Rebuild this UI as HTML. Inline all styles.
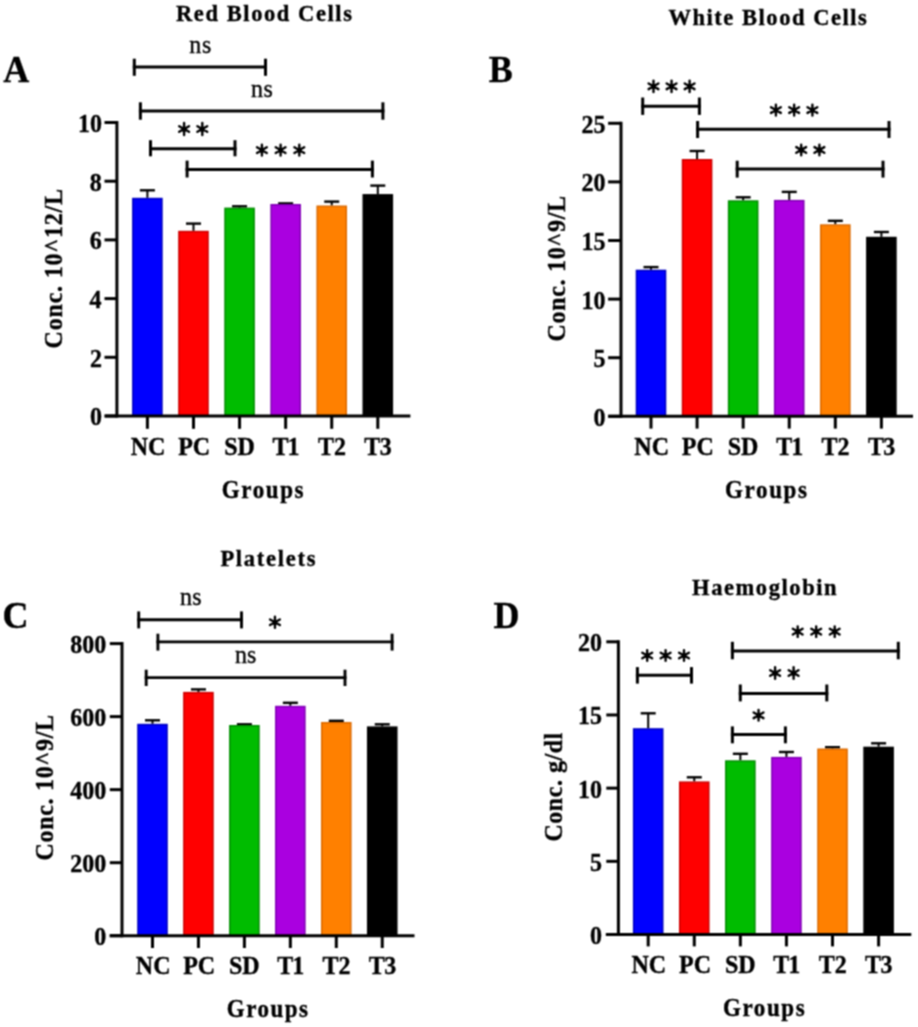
<!DOCTYPE html>
<html><head><meta charset="utf-8"><style>html,body{margin:0;padding:0;background:#fff;}svg{display:block;}text{font-family:"Liberation Serif",serif;fill:#000;stroke:#000;stroke-width:0.35px;}</style></head><body>
<svg width="918" height="1027" viewBox="0 0 918 1027" font-family="Liberation Serif, serif">
<defs><filter id="soft" filterUnits="userSpaceOnUse" x="0" y="0" width="918" height="1027"><feConvolveMatrix color-interpolation-filters="sRGB" order="3" kernelMatrix="1 2 1 2 4 2 1 2 1" divisor="16" edgeMode="duplicate"/></filter></defs><g filter="url(#soft)">
<rect width="918" height="1027" fill="#fff"/>
<line x1="147.40" y1="197.80" x2="147.40" y2="190.30" stroke="#000" stroke-width="2.0" stroke-linecap="butt"/>
<line x1="139.90" y1="190.30" x2="154.90" y2="190.30" stroke="#000" stroke-width="2.4" stroke-linecap="butt"/>
<rect x="132.85" y="198.55" width="29.10" height="217.45" fill="#0000ff" stroke="#0000c0" stroke-width="1.5"/>
<line x1="147.40" y1="416.00" x2="147.40" y2="428.80" stroke="#000" stroke-width="3.0" stroke-linecap="butt"/>
<text transform="translate(130.75,446.20) scale(1,1.07) translate(0,7.85)" font-size="24" font-weight="bold" letter-spacing="0.000">NC</text>
<line x1="193.48" y1="230.80" x2="193.48" y2="223.60" stroke="#000" stroke-width="2.0" stroke-linecap="butt"/>
<line x1="185.98" y1="223.60" x2="200.98" y2="223.60" stroke="#000" stroke-width="2.4" stroke-linecap="butt"/>
<rect x="178.93" y="231.55" width="29.10" height="184.45" fill="#ff0000" stroke="#cc0000" stroke-width="1.5"/>
<line x1="193.48" y1="416.00" x2="193.48" y2="428.80" stroke="#000" stroke-width="3.0" stroke-linecap="butt"/>
<text transform="translate(178.18,446.20) scale(1,1.07) translate(0,7.85)" font-size="24" font-weight="bold" letter-spacing="0.000">PC</text>
<line x1="239.56" y1="207.60" x2="239.56" y2="206.30" stroke="#000" stroke-width="2.0" stroke-linecap="butt"/>
<line x1="232.06" y1="206.30" x2="247.06" y2="206.30" stroke="#000" stroke-width="2.4" stroke-linecap="butt"/>
<rect x="225.01" y="208.35" width="29.10" height="207.65" fill="#00bc00" stroke="#008c00" stroke-width="1.5"/>
<line x1="239.56" y1="416.00" x2="239.56" y2="428.80" stroke="#000" stroke-width="3.0" stroke-linecap="butt"/>
<text transform="translate(224.16,446.20) scale(1,1.07) translate(0,7.85)" font-size="24" font-weight="bold" letter-spacing="0.000">SD</text>
<line x1="285.64" y1="204.00" x2="285.64" y2="203.40" stroke="#000" stroke-width="2.0" stroke-linecap="butt"/>
<line x1="278.14" y1="203.40" x2="293.14" y2="203.40" stroke="#000" stroke-width="2.4" stroke-linecap="butt"/>
<rect x="271.09" y="204.75" width="29.10" height="211.25" fill="#aa00e0" stroke="#8000b4" stroke-width="1.5"/>
<line x1="285.64" y1="416.00" x2="285.64" y2="428.80" stroke="#000" stroke-width="3.0" stroke-linecap="butt"/>
<text transform="translate(272.54,446.20) scale(1,1.07) translate(0,7.90)" font-size="24" font-weight="bold" letter-spacing="-1.000">T1</text>
<line x1="331.72" y1="205.50" x2="331.72" y2="201.60" stroke="#000" stroke-width="2.0" stroke-linecap="butt"/>
<line x1="324.22" y1="201.60" x2="339.22" y2="201.60" stroke="#000" stroke-width="2.4" stroke-linecap="butt"/>
<rect x="317.17" y="206.25" width="29.10" height="209.75" fill="#ff8000" stroke="#dc6a00" stroke-width="1.5"/>
<line x1="331.72" y1="416.00" x2="331.72" y2="428.80" stroke="#000" stroke-width="3.0" stroke-linecap="butt"/>
<text transform="translate(318.02,446.20) scale(1,1.07) translate(0,7.95)" font-size="24" font-weight="bold" letter-spacing="0.000">T2</text>
<line x1="377.80" y1="194.10" x2="377.80" y2="185.60" stroke="#000" stroke-width="2.0" stroke-linecap="butt"/>
<line x1="370.30" y1="185.60" x2="385.30" y2="185.60" stroke="#000" stroke-width="2.4" stroke-linecap="butt"/>
<rect x="363.25" y="194.85" width="29.10" height="221.15" fill="#000000" stroke="#000000" stroke-width="1.5"/>
<line x1="377.80" y1="416.00" x2="377.80" y2="428.80" stroke="#000" stroke-width="3.0" stroke-linecap="butt"/>
<text transform="translate(364.30,446.20) scale(1,1.07) translate(0,7.85)" font-size="24" font-weight="bold" letter-spacing="-0.600">T3</text>
<line x1="116.90" y1="121.00" x2="116.90" y2="417.50" stroke="#000" stroke-width="3.0" stroke-linecap="butt"/>
<line x1="104.80" y1="416.00" x2="410.40" y2="416.00" stroke="#000" stroke-width="3.0" stroke-linecap="butt"/>
<line x1="104.50" y1="416.00" x2="116.90" y2="416.00" stroke="#000" stroke-width="3.0" stroke-linecap="butt"/>
<text transform="translate(89.90,417.00) scale(1,1.07) translate(0,7.90)" font-size="24" font-weight="bold" letter-spacing="0.000">0</text>
<line x1="104.50" y1="357.30" x2="116.90" y2="357.30" stroke="#000" stroke-width="3.0" stroke-linecap="butt"/>
<text transform="translate(90.00,358.30) scale(1,1.07) translate(0,7.95)" font-size="24" font-weight="bold" letter-spacing="0.000">2</text>
<line x1="104.50" y1="298.60" x2="116.90" y2="298.60" stroke="#000" stroke-width="3.0" stroke-linecap="butt"/>
<text transform="translate(89.40,299.60) scale(1,1.07) translate(0,7.90)" font-size="24" font-weight="bold" letter-spacing="0.000">4</text>
<line x1="104.50" y1="239.90" x2="116.90" y2="239.90" stroke="#000" stroke-width="3.0" stroke-linecap="butt"/>
<text transform="translate(89.70,240.90) scale(1,1.07) translate(0,7.85)" font-size="24" font-weight="bold" letter-spacing="0.000">6</text>
<line x1="104.50" y1="181.20" x2="116.90" y2="181.20" stroke="#000" stroke-width="3.0" stroke-linecap="butt"/>
<text transform="translate(89.80,182.20) scale(1,1.07) translate(0,7.90)" font-size="24" font-weight="bold" letter-spacing="0.000">8</text>
<line x1="104.50" y1="122.50" x2="116.90" y2="122.50" stroke="#000" stroke-width="3.0" stroke-linecap="butt"/>
<text transform="translate(77.90,123.50) scale(1,1.07) translate(0,7.90)" font-size="24" font-weight="bold" letter-spacing="0.000">10</text>
<text transform="translate(176.00,13.05) scale(1,1.07) translate(0,7.35)" font-size="22.5" font-weight="bold" letter-spacing="1.586">Red Blood Cells</text>
<text transform="translate(3.15,69.75) scale(1,1.07) translate(0,11.90)" font-size="36" font-weight="bold" letter-spacing="0.000">A</text>
<text transform="translate(189.20,46.85) scale(1,1.07) translate(0,5.55)" font-size="24" font-weight="normal" letter-spacing="0.800">ns</text>
<text transform="translate(251.00,90.65) scale(1,1.07) translate(0,5.55)" font-size="24" font-weight="normal" letter-spacing="0.500">ns</text>
<text transform="translate(221.80,489.75) scale(1,1.07) translate(0,7.55)" font-size="23" font-weight="bold" letter-spacing="1.620">Groups</text>
<text transform="translate(53.35,348.40) rotate(-90) scale(1,1.07) translate(0,7.85)" font-size="24" font-weight="bold" letter-spacing="0.792">Conc. 10^12/L</text>
<path d="M184.10 122.90L184.10 135.10M179.20 126.17L189.00 131.83M189.00 126.17L179.20 131.83M202.30 122.90L202.30 135.10M197.40 126.17L207.20 131.83M207.20 126.17L197.40 131.83" stroke="#000" stroke-width="2.4" stroke-linecap="round" fill="none"/>
<circle cx="184.10" cy="129.00" r="2.6"/>
<circle cx="202.30" cy="129.00" r="2.6"/>
<path d="M261.90 144.70L261.90 155.60M257.00 147.32L266.80 152.98M266.80 147.32L257.00 152.98M280.60 144.70L280.60 155.60M275.70 147.32L285.50 152.98M285.50 147.32L275.70 152.98M299.30 144.70L299.30 155.60M294.40 147.32L304.20 152.98M304.20 147.32L294.40 152.98" stroke="#000" stroke-width="2.4" stroke-linecap="round" fill="none"/>
<circle cx="261.90" cy="150.15" r="2.6"/>
<circle cx="280.60" cy="150.15" r="2.6"/>
<circle cx="299.30" cy="150.15" r="2.6"/>
<line x1="132.80" y1="66.90" x2="267.00" y2="66.90" stroke="#000" stroke-width="3.0" stroke-linecap="butt"/>
<line x1="134.30" y1="58.70" x2="134.30" y2="75.80" stroke="#000" stroke-width="3.0" stroke-linecap="butt"/>
<line x1="265.50" y1="58.70" x2="265.50" y2="75.80" stroke="#000" stroke-width="3.0" stroke-linecap="butt"/>
<line x1="138.90" y1="111.00" x2="384.40" y2="111.00" stroke="#000" stroke-width="3.0" stroke-linecap="butt"/>
<line x1="140.40" y1="102.30" x2="140.40" y2="119.70" stroke="#000" stroke-width="3.0" stroke-linecap="butt"/>
<line x1="382.90" y1="102.30" x2="382.90" y2="119.70" stroke="#000" stroke-width="3.0" stroke-linecap="butt"/>
<line x1="149.00" y1="148.80" x2="236.50" y2="148.80" stroke="#000" stroke-width="3.0" stroke-linecap="butt"/>
<line x1="150.50" y1="140.20" x2="150.50" y2="156.30" stroke="#000" stroke-width="3.0" stroke-linecap="butt"/>
<line x1="235.00" y1="140.20" x2="235.00" y2="156.30" stroke="#000" stroke-width="3.0" stroke-linecap="butt"/>
<line x1="185.60" y1="169.50" x2="373.90" y2="169.50" stroke="#000" stroke-width="3.0" stroke-linecap="butt"/>
<line x1="187.10" y1="160.60" x2="187.10" y2="177.50" stroke="#000" stroke-width="3.0" stroke-linecap="butt"/>
<line x1="372.40" y1="160.60" x2="372.40" y2="177.50" stroke="#000" stroke-width="3.0" stroke-linecap="butt"/>
<line x1="651.00" y1="269.70" x2="651.00" y2="267.10" stroke="#000" stroke-width="2.0" stroke-linecap="butt"/>
<line x1="643.50" y1="267.10" x2="658.50" y2="267.10" stroke="#000" stroke-width="2.4" stroke-linecap="butt"/>
<rect x="636.45" y="270.45" width="29.10" height="145.85" fill="#0000ff" stroke="#0000c0" stroke-width="1.5"/>
<line x1="651.00" y1="416.30" x2="651.00" y2="428.60" stroke="#000" stroke-width="3.0" stroke-linecap="butt"/>
<text transform="translate(634.35,446.30) scale(1,1.07) translate(0,7.85)" font-size="24" font-weight="bold" letter-spacing="0.000">NC</text>
<line x1="697.08" y1="159.00" x2="697.08" y2="151.00" stroke="#000" stroke-width="2.0" stroke-linecap="butt"/>
<line x1="689.58" y1="151.00" x2="704.58" y2="151.00" stroke="#000" stroke-width="2.4" stroke-linecap="butt"/>
<rect x="682.53" y="159.75" width="29.10" height="256.55" fill="#ff0000" stroke="#cc0000" stroke-width="1.5"/>
<line x1="697.08" y1="416.30" x2="697.08" y2="428.60" stroke="#000" stroke-width="3.0" stroke-linecap="butt"/>
<text transform="translate(681.78,446.30) scale(1,1.07) translate(0,7.85)" font-size="24" font-weight="bold" letter-spacing="0.000">PC</text>
<line x1="743.16" y1="200.30" x2="743.16" y2="197.30" stroke="#000" stroke-width="2.0" stroke-linecap="butt"/>
<line x1="735.66" y1="197.30" x2="750.66" y2="197.30" stroke="#000" stroke-width="2.4" stroke-linecap="butt"/>
<rect x="728.61" y="201.05" width="29.10" height="215.25" fill="#00bc00" stroke="#008c00" stroke-width="1.5"/>
<line x1="743.16" y1="416.30" x2="743.16" y2="428.60" stroke="#000" stroke-width="3.0" stroke-linecap="butt"/>
<text transform="translate(727.76,446.30) scale(1,1.07) translate(0,7.85)" font-size="24" font-weight="bold" letter-spacing="0.000">SD</text>
<line x1="789.24" y1="199.90" x2="789.24" y2="191.90" stroke="#000" stroke-width="2.0" stroke-linecap="butt"/>
<line x1="781.74" y1="191.90" x2="796.74" y2="191.90" stroke="#000" stroke-width="2.4" stroke-linecap="butt"/>
<rect x="774.69" y="200.65" width="29.10" height="215.65" fill="#aa00e0" stroke="#8000b4" stroke-width="1.5"/>
<line x1="789.24" y1="416.30" x2="789.24" y2="428.60" stroke="#000" stroke-width="3.0" stroke-linecap="butt"/>
<text transform="translate(776.14,446.30) scale(1,1.07) translate(0,7.90)" font-size="24" font-weight="bold" letter-spacing="-1.000">T1</text>
<line x1="835.32" y1="224.30" x2="835.32" y2="220.80" stroke="#000" stroke-width="2.0" stroke-linecap="butt"/>
<line x1="827.82" y1="220.80" x2="842.82" y2="220.80" stroke="#000" stroke-width="2.4" stroke-linecap="butt"/>
<rect x="820.77" y="225.05" width="29.10" height="191.25" fill="#ff8000" stroke="#dc6a00" stroke-width="1.5"/>
<line x1="835.32" y1="416.30" x2="835.32" y2="428.60" stroke="#000" stroke-width="3.0" stroke-linecap="butt"/>
<text transform="translate(821.62,446.30) scale(1,1.07) translate(0,7.95)" font-size="24" font-weight="bold" letter-spacing="0.000">T2</text>
<line x1="881.40" y1="236.80" x2="881.40" y2="232.00" stroke="#000" stroke-width="2.0" stroke-linecap="butt"/>
<line x1="873.90" y1="232.00" x2="888.90" y2="232.00" stroke="#000" stroke-width="2.4" stroke-linecap="butt"/>
<rect x="866.85" y="237.55" width="29.10" height="178.75" fill="#000000" stroke="#000000" stroke-width="1.5"/>
<line x1="881.40" y1="416.30" x2="881.40" y2="428.60" stroke="#000" stroke-width="3.0" stroke-linecap="butt"/>
<text transform="translate(867.90,446.30) scale(1,1.07) translate(0,7.85)" font-size="24" font-weight="bold" letter-spacing="-0.600">T3</text>
<line x1="621.00" y1="121.80" x2="621.00" y2="417.80" stroke="#000" stroke-width="3.0" stroke-linecap="butt"/>
<line x1="608.30" y1="416.30" x2="913.00" y2="416.30" stroke="#000" stroke-width="3.0" stroke-linecap="butt"/>
<line x1="608.10" y1="416.30" x2="621.00" y2="416.30" stroke="#000" stroke-width="3.0" stroke-linecap="butt"/>
<text transform="translate(593.50,417.30) scale(1,1.07) translate(0,7.90)" font-size="24" font-weight="bold" letter-spacing="0.000">0</text>
<line x1="608.10" y1="357.70" x2="621.00" y2="357.70" stroke="#000" stroke-width="3.0" stroke-linecap="butt"/>
<text transform="translate(593.50,358.70) scale(1,1.07) translate(0,7.75)" font-size="24" font-weight="bold" letter-spacing="0.000">5</text>
<line x1="608.10" y1="299.10" x2="621.00" y2="299.10" stroke="#000" stroke-width="3.0" stroke-linecap="butt"/>
<text transform="translate(581.50,300.10) scale(1,1.07) translate(0,7.90)" font-size="24" font-weight="bold" letter-spacing="0.000">10</text>
<line x1="608.10" y1="240.50" x2="621.00" y2="240.50" stroke="#000" stroke-width="3.0" stroke-linecap="butt"/>
<text transform="translate(581.50,241.50) scale(1,1.07) translate(0,7.80)" font-size="24" font-weight="bold" letter-spacing="0.000">15</text>
<line x1="608.10" y1="181.90" x2="621.00" y2="181.90" stroke="#000" stroke-width="3.0" stroke-linecap="butt"/>
<text transform="translate(581.50,182.90) scale(1,1.07) translate(0,7.90)" font-size="24" font-weight="bold" letter-spacing="0.000">20</text>
<line x1="608.10" y1="123.30" x2="621.00" y2="123.30" stroke="#000" stroke-width="3.0" stroke-linecap="butt"/>
<text transform="translate(581.50,124.30) scale(1,1.07) translate(0,7.85)" font-size="24" font-weight="bold" letter-spacing="0.000">25</text>
<text transform="translate(668.40,17.15) scale(1,1.07) translate(0,7.35)" font-size="22.5" font-weight="bold" letter-spacing="1.544">White Blood Cells</text>
<text transform="translate(488.65,69.30) scale(1,1.07) translate(0,11.75)" font-size="36" font-weight="bold" letter-spacing="0.000">B</text>
<text transform="translate(725.10,489.75) scale(1,1.07) translate(0,7.55)" font-size="23" font-weight="bold" letter-spacing="1.640">Groups</text>
<text transform="translate(556.75,341.60) rotate(-90) scale(1,1.07) translate(0,7.85)" font-size="24" font-weight="bold" letter-spacing="0.709">Conc. 10^9/L</text>
<path d="M653.50 80.60L653.50 92.00M648.60 83.47L658.40 89.13M658.40 83.47L648.60 89.13M671.55 80.60L671.55 92.00M666.65 83.47L676.45 89.13M676.45 83.47L666.65 89.13M689.60 80.60L689.60 92.00M684.70 83.47L694.50 89.13M694.50 83.47L684.70 89.13" stroke="#000" stroke-width="2.4" stroke-linecap="round" fill="none"/>
<circle cx="653.50" cy="86.30" r="2.6"/>
<circle cx="671.55" cy="86.30" r="2.6"/>
<circle cx="689.60" cy="86.30" r="2.6"/>
<path d="M775.90 104.60L775.90 115.50M771.00 107.22L780.80 112.88M780.80 107.22L771.00 112.88M794.15 104.60L794.15 115.50M789.25 107.22L799.05 112.88M799.05 107.22L789.25 112.88M812.40 104.60L812.40 115.50M807.50 107.22L817.30 112.88M817.30 107.22L807.50 112.88" stroke="#000" stroke-width="2.4" stroke-linecap="round" fill="none"/>
<circle cx="775.90" cy="110.05" r="2.6"/>
<circle cx="794.15" cy="110.05" r="2.6"/>
<circle cx="812.40" cy="110.05" r="2.6"/>
<path d="M801.20 144.70L801.20 155.20M796.30 147.12L806.10 152.78M806.10 147.12L796.30 152.78M819.40 144.70L819.40 155.20M814.50 147.12L824.30 152.78M824.30 147.12L814.50 152.78" stroke="#000" stroke-width="2.4" stroke-linecap="round" fill="none"/>
<circle cx="801.20" cy="149.95" r="2.6"/>
<circle cx="819.40" cy="149.95" r="2.6"/>
<line x1="641.20" y1="106.20" x2="700.90" y2="106.20" stroke="#000" stroke-width="3.0" stroke-linecap="butt"/>
<line x1="642.70" y1="97.50" x2="642.70" y2="114.90" stroke="#000" stroke-width="3.0" stroke-linecap="butt"/>
<line x1="699.40" y1="97.50" x2="699.40" y2="114.90" stroke="#000" stroke-width="3.0" stroke-linecap="butt"/>
<line x1="696.10" y1="129.30" x2="890.50" y2="129.30" stroke="#000" stroke-width="3.0" stroke-linecap="butt"/>
<line x1="697.60" y1="121.00" x2="697.60" y2="138.00" stroke="#000" stroke-width="3.0" stroke-linecap="butt"/>
<line x1="889.00" y1="121.00" x2="889.00" y2="138.00" stroke="#000" stroke-width="3.0" stroke-linecap="butt"/>
<line x1="735.70" y1="169.00" x2="884.50" y2="169.00" stroke="#000" stroke-width="3.0" stroke-linecap="butt"/>
<line x1="737.20" y1="160.70" x2="737.20" y2="177.60" stroke="#000" stroke-width="3.0" stroke-linecap="butt"/>
<line x1="883.00" y1="160.70" x2="883.00" y2="177.60" stroke="#000" stroke-width="3.0" stroke-linecap="butt"/>
<line x1="152.50" y1="723.80" x2="152.50" y2="720.30" stroke="#000" stroke-width="2.0" stroke-linecap="butt"/>
<line x1="145.00" y1="720.30" x2="160.00" y2="720.30" stroke="#000" stroke-width="2.4" stroke-linecap="butt"/>
<rect x="137.95" y="724.55" width="29.10" height="211.15" fill="#0000ff" stroke="#0000c0" stroke-width="1.5"/>
<line x1="152.50" y1="935.70" x2="152.50" y2="948.00" stroke="#000" stroke-width="3.0" stroke-linecap="butt"/>
<text transform="translate(135.85,965.20) scale(1,1.07) translate(0,7.85)" font-size="24" font-weight="bold" letter-spacing="0.000">NC</text>
<line x1="198.45" y1="691.90" x2="198.45" y2="689.40" stroke="#000" stroke-width="2.0" stroke-linecap="butt"/>
<line x1="190.95" y1="689.40" x2="205.95" y2="689.40" stroke="#000" stroke-width="2.4" stroke-linecap="butt"/>
<rect x="183.90" y="692.65" width="29.10" height="243.05" fill="#ff0000" stroke="#cc0000" stroke-width="1.5"/>
<line x1="198.45" y1="935.70" x2="198.45" y2="948.00" stroke="#000" stroke-width="3.0" stroke-linecap="butt"/>
<text transform="translate(183.15,965.20) scale(1,1.07) translate(0,7.85)" font-size="24" font-weight="bold" letter-spacing="0.000">PC</text>
<line x1="244.40" y1="725.00" x2="244.40" y2="724.30" stroke="#000" stroke-width="2.0" stroke-linecap="butt"/>
<line x1="236.90" y1="724.30" x2="251.90" y2="724.30" stroke="#000" stroke-width="2.4" stroke-linecap="butt"/>
<rect x="229.85" y="725.75" width="29.10" height="209.95" fill="#00bc00" stroke="#008c00" stroke-width="1.5"/>
<line x1="244.40" y1="935.70" x2="244.40" y2="948.00" stroke="#000" stroke-width="3.0" stroke-linecap="butt"/>
<text transform="translate(229.00,965.20) scale(1,1.07) translate(0,7.85)" font-size="24" font-weight="bold" letter-spacing="0.000">SD</text>
<line x1="290.35" y1="705.80" x2="290.35" y2="702.80" stroke="#000" stroke-width="2.0" stroke-linecap="butt"/>
<line x1="282.85" y1="702.80" x2="297.85" y2="702.80" stroke="#000" stroke-width="2.4" stroke-linecap="butt"/>
<rect x="275.80" y="706.55" width="29.10" height="229.15" fill="#aa00e0" stroke="#8000b4" stroke-width="1.5"/>
<line x1="290.35" y1="935.70" x2="290.35" y2="948.00" stroke="#000" stroke-width="3.0" stroke-linecap="butt"/>
<text transform="translate(277.25,965.20) scale(1,1.07) translate(0,7.90)" font-size="24" font-weight="bold" letter-spacing="-1.000">T1</text>
<line x1="336.30" y1="722.00" x2="336.30" y2="720.80" stroke="#000" stroke-width="2.0" stroke-linecap="butt"/>
<line x1="328.80" y1="720.80" x2="343.80" y2="720.80" stroke="#000" stroke-width="2.4" stroke-linecap="butt"/>
<rect x="321.75" y="722.75" width="29.10" height="212.95" fill="#ff8000" stroke="#dc6a00" stroke-width="1.5"/>
<line x1="336.30" y1="935.70" x2="336.30" y2="948.00" stroke="#000" stroke-width="3.0" stroke-linecap="butt"/>
<text transform="translate(322.60,965.20) scale(1,1.07) translate(0,7.95)" font-size="24" font-weight="bold" letter-spacing="0.000">T2</text>
<line x1="382.25" y1="726.40" x2="382.25" y2="724.30" stroke="#000" stroke-width="2.0" stroke-linecap="butt"/>
<line x1="374.75" y1="724.30" x2="389.75" y2="724.30" stroke="#000" stroke-width="2.4" stroke-linecap="butt"/>
<rect x="367.70" y="727.15" width="29.10" height="208.55" fill="#000000" stroke="#000000" stroke-width="1.5"/>
<line x1="382.25" y1="935.70" x2="382.25" y2="948.00" stroke="#000" stroke-width="3.0" stroke-linecap="butt"/>
<text transform="translate(368.75,965.20) scale(1,1.07) translate(0,7.85)" font-size="24" font-weight="bold" letter-spacing="-0.600">T3</text>
<line x1="122.00" y1="642.10" x2="122.00" y2="937.20" stroke="#000" stroke-width="3.0" stroke-linecap="butt"/>
<line x1="109.70" y1="935.70" x2="414.50" y2="935.70" stroke="#000" stroke-width="3.0" stroke-linecap="butt"/>
<line x1="109.80" y1="935.70" x2="122.00" y2="935.70" stroke="#000" stroke-width="3.0" stroke-linecap="butt"/>
<text transform="translate(94.30,936.70) scale(1,1.07) translate(0,7.90)" font-size="24" font-weight="bold" letter-spacing="0.000">0</text>
<line x1="109.80" y1="862.68" x2="122.00" y2="862.68" stroke="#000" stroke-width="3.0" stroke-linecap="butt"/>
<text transform="translate(70.30,863.68) scale(1,1.07) translate(0,7.90)" font-size="24" font-weight="bold" letter-spacing="0.000">200</text>
<line x1="109.80" y1="789.65" x2="122.00" y2="789.65" stroke="#000" stroke-width="3.0" stroke-linecap="butt"/>
<text transform="translate(70.30,790.65) scale(1,1.07) translate(0,7.90)" font-size="24" font-weight="bold" letter-spacing="0.000">400</text>
<line x1="109.80" y1="716.62" x2="122.00" y2="716.62" stroke="#000" stroke-width="3.0" stroke-linecap="butt"/>
<text transform="translate(70.30,717.62) scale(1,1.07) translate(0,7.90)" font-size="24" font-weight="bold" letter-spacing="0.000">600</text>
<line x1="109.80" y1="643.60" x2="122.00" y2="643.60" stroke="#000" stroke-width="3.0" stroke-linecap="butt"/>
<text transform="translate(70.30,644.60) scale(1,1.07) translate(0,7.90)" font-size="24" font-weight="bold" letter-spacing="0.000">800</text>
<text transform="translate(220.40,557.65) scale(1,1.07) translate(0,7.35)" font-size="22.5" font-weight="bold" letter-spacing="1.725">Platelets</text>
<text transform="translate(2.50,615.30) scale(1,1.07) translate(0,11.70)" font-size="36" font-weight="bold" letter-spacing="0.000">C</text>
<text transform="translate(179.90,599.40) scale(1,1.07) translate(0,5.55)" font-size="24" font-weight="normal" letter-spacing="0.400">ns</text>
<text transform="translate(235.10,657.55) scale(1,1.07) translate(0,5.55)" font-size="24" font-weight="normal" letter-spacing="-0.100">ns</text>
<text transform="translate(226.80,1008.80) scale(1,1.07) translate(0,7.55)" font-size="23" font-weight="bold" letter-spacing="1.500">Groups</text>
<text transform="translate(44.35,860.60) rotate(-90) scale(1,1.07) translate(0,7.85)" font-size="24" font-weight="bold" letter-spacing="0.709">Conc. 10^9/L</text>
<path d="M274.95 616.80L274.95 627.70M270.05 619.42L279.85 625.08M279.85 619.42L270.05 625.08" stroke="#000" stroke-width="2.4" stroke-linecap="round" fill="none"/>
<circle cx="274.95" cy="622.25" r="2.6"/>
<line x1="137.25" y1="619.70" x2="242.95" y2="619.70" stroke="#000" stroke-width="2.9" stroke-linecap="butt"/>
<line x1="138.70" y1="611.40" x2="138.70" y2="628.40" stroke="#000" stroke-width="2.9" stroke-linecap="butt"/>
<line x1="241.50" y1="611.40" x2="241.50" y2="628.40" stroke="#000" stroke-width="2.9" stroke-linecap="butt"/>
<line x1="156.45" y1="641.90" x2="393.55" y2="641.90" stroke="#000" stroke-width="2.9" stroke-linecap="butt"/>
<line x1="157.90" y1="633.70" x2="157.90" y2="650.60" stroke="#000" stroke-width="2.9" stroke-linecap="butt"/>
<line x1="392.10" y1="633.70" x2="392.10" y2="650.60" stroke="#000" stroke-width="2.9" stroke-linecap="butt"/>
<line x1="144.75" y1="677.60" x2="346.45" y2="677.60" stroke="#000" stroke-width="2.9" stroke-linecap="butt"/>
<line x1="146.20" y1="669.70" x2="146.20" y2="686.00" stroke="#000" stroke-width="2.9" stroke-linecap="butt"/>
<line x1="345.00" y1="669.70" x2="345.00" y2="686.00" stroke="#000" stroke-width="2.9" stroke-linecap="butt"/>
<line x1="648.20" y1="728.20" x2="648.20" y2="713.30" stroke="#000" stroke-width="2.0" stroke-linecap="butt"/>
<line x1="640.70" y1="713.30" x2="655.70" y2="713.30" stroke="#000" stroke-width="2.4" stroke-linecap="butt"/>
<rect x="633.65" y="728.95" width="29.10" height="205.55" fill="#0000ff" stroke="#0000c0" stroke-width="1.5"/>
<line x1="648.20" y1="934.50" x2="648.20" y2="946.40" stroke="#000" stroke-width="3.0" stroke-linecap="butt"/>
<text transform="translate(631.55,964.50) scale(1,1.07) translate(0,7.85)" font-size="24" font-weight="bold" letter-spacing="0.000">NC</text>
<line x1="694.28" y1="781.40" x2="694.28" y2="777.30" stroke="#000" stroke-width="2.0" stroke-linecap="butt"/>
<line x1="686.78" y1="777.30" x2="701.78" y2="777.30" stroke="#000" stroke-width="2.4" stroke-linecap="butt"/>
<rect x="679.73" y="782.15" width="29.10" height="152.35" fill="#ff0000" stroke="#cc0000" stroke-width="1.5"/>
<line x1="694.28" y1="934.50" x2="694.28" y2="946.40" stroke="#000" stroke-width="3.0" stroke-linecap="butt"/>
<text transform="translate(678.98,964.50) scale(1,1.07) translate(0,7.85)" font-size="24" font-weight="bold" letter-spacing="0.000">PC</text>
<line x1="740.36" y1="760.30" x2="740.36" y2="753.80" stroke="#000" stroke-width="2.0" stroke-linecap="butt"/>
<line x1="732.86" y1="753.80" x2="747.86" y2="753.80" stroke="#000" stroke-width="2.4" stroke-linecap="butt"/>
<rect x="725.81" y="761.05" width="29.10" height="173.45" fill="#00bc00" stroke="#008c00" stroke-width="1.5"/>
<line x1="740.36" y1="934.50" x2="740.36" y2="946.40" stroke="#000" stroke-width="3.0" stroke-linecap="butt"/>
<text transform="translate(724.96,964.50) scale(1,1.07) translate(0,7.85)" font-size="24" font-weight="bold" letter-spacing="0.000">SD</text>
<line x1="786.44" y1="756.90" x2="786.44" y2="752.00" stroke="#000" stroke-width="2.0" stroke-linecap="butt"/>
<line x1="778.94" y1="752.00" x2="793.94" y2="752.00" stroke="#000" stroke-width="2.4" stroke-linecap="butt"/>
<rect x="771.89" y="757.65" width="29.10" height="176.85" fill="#aa00e0" stroke="#8000b4" stroke-width="1.5"/>
<line x1="786.44" y1="934.50" x2="786.44" y2="946.40" stroke="#000" stroke-width="3.0" stroke-linecap="butt"/>
<text transform="translate(773.34,964.50) scale(1,1.07) translate(0,7.90)" font-size="24" font-weight="bold" letter-spacing="-1.000">T1</text>
<line x1="832.52" y1="748.50" x2="832.52" y2="747.20" stroke="#000" stroke-width="2.0" stroke-linecap="butt"/>
<line x1="825.02" y1="747.20" x2="840.02" y2="747.20" stroke="#000" stroke-width="2.4" stroke-linecap="butt"/>
<rect x="817.97" y="749.25" width="29.10" height="185.25" fill="#ff8000" stroke="#dc6a00" stroke-width="1.5"/>
<line x1="832.52" y1="934.50" x2="832.52" y2="946.40" stroke="#000" stroke-width="3.0" stroke-linecap="butt"/>
<text transform="translate(818.82,964.50) scale(1,1.07) translate(0,7.95)" font-size="24" font-weight="bold" letter-spacing="0.000">T2</text>
<line x1="878.60" y1="746.70" x2="878.60" y2="743.30" stroke="#000" stroke-width="2.0" stroke-linecap="butt"/>
<line x1="871.10" y1="743.30" x2="886.10" y2="743.30" stroke="#000" stroke-width="2.4" stroke-linecap="butt"/>
<rect x="864.05" y="747.45" width="29.10" height="187.05" fill="#000000" stroke="#000000" stroke-width="1.5"/>
<line x1="878.60" y1="934.50" x2="878.60" y2="946.40" stroke="#000" stroke-width="3.0" stroke-linecap="butt"/>
<text transform="translate(865.10,964.50) scale(1,1.07) translate(0,7.85)" font-size="24" font-weight="bold" letter-spacing="-0.600">T3</text>
<line x1="618.40" y1="640.30" x2="618.40" y2="936.00" stroke="#000" stroke-width="3.0" stroke-linecap="butt"/>
<line x1="605.80" y1="934.50" x2="911.30" y2="934.50" stroke="#000" stroke-width="3.0" stroke-linecap="butt"/>
<line x1="606.30" y1="934.50" x2="618.40" y2="934.50" stroke="#000" stroke-width="3.0" stroke-linecap="butt"/>
<text transform="translate(590.00,935.50) scale(1,1.07) translate(0,7.90)" font-size="24" font-weight="bold" letter-spacing="0.000">0</text>
<line x1="606.30" y1="861.33" x2="618.40" y2="861.33" stroke="#000" stroke-width="3.0" stroke-linecap="butt"/>
<text transform="translate(590.00,862.33) scale(1,1.07) translate(0,7.75)" font-size="24" font-weight="bold" letter-spacing="0.000">5</text>
<line x1="606.30" y1="788.15" x2="618.40" y2="788.15" stroke="#000" stroke-width="3.0" stroke-linecap="butt"/>
<text transform="translate(578.00,789.15) scale(1,1.07) translate(0,7.90)" font-size="24" font-weight="bold" letter-spacing="0.000">10</text>
<line x1="606.30" y1="714.97" x2="618.40" y2="714.97" stroke="#000" stroke-width="3.0" stroke-linecap="butt"/>
<text transform="translate(578.00,715.97) scale(1,1.07) translate(0,7.80)" font-size="24" font-weight="bold" letter-spacing="0.000">15</text>
<line x1="606.30" y1="641.80" x2="618.40" y2="641.80" stroke="#000" stroke-width="3.0" stroke-linecap="butt"/>
<text transform="translate(578.00,642.80) scale(1,1.07) translate(0,7.90)" font-size="24" font-weight="bold" letter-spacing="0.000">20</text>
<text transform="translate(692.10,587.15) scale(1,1.07) translate(0,7.35)" font-size="22.5" font-weight="bold" letter-spacing="1.570">Haemoglobin</text>
<text transform="translate(493.55,615.30) scale(1,1.07) translate(0,11.75)" font-size="36" font-weight="bold" letter-spacing="0.000">D</text>
<text transform="translate(722.90,1007.65) scale(1,1.07) translate(0,7.55)" font-size="23" font-weight="bold" letter-spacing="1.620">Groups</text>
<text transform="translate(553.65,841.60) rotate(-90) scale(1,1.07) translate(0,7.85)" font-size="24" font-weight="bold" letter-spacing="0.544">Conc. g/dl</text>
<path d="M647.20 650.20L647.20 660.80M642.30 652.67L652.10 658.33M652.10 652.67L642.30 658.33M665.60 650.20L665.60 660.80M660.70 652.67L670.50 658.33M670.50 652.67L660.70 658.33M684.00 650.20L684.00 660.80M679.10 652.67L688.90 658.33M688.90 652.67L679.10 658.33" stroke="#000" stroke-width="2.4" stroke-linecap="round" fill="none"/>
<circle cx="647.20" cy="655.50" r="2.6"/>
<circle cx="665.60" cy="655.50" r="2.6"/>
<circle cx="684.00" cy="655.50" r="2.6"/>
<path d="M797.70 626.40L797.70 636.90M792.80 628.82L802.60 634.48M802.60 628.82L792.80 634.48M816.20 626.40L816.20 636.90M811.30 628.82L821.10 634.48M821.10 628.82L811.30 634.48M834.70 626.40L834.70 636.90M829.80 628.82L839.60 634.48M839.60 628.82L829.80 634.48" stroke="#000" stroke-width="2.4" stroke-linecap="round" fill="none"/>
<circle cx="797.70" cy="631.65" r="2.6"/>
<circle cx="816.20" cy="631.65" r="2.6"/>
<circle cx="834.70" cy="631.65" r="2.6"/>
<path d="M775.10 667.30L775.10 678.70M770.20 670.17L780.00 675.83M780.00 670.17L770.20 675.83M793.60 667.30L793.60 678.70M788.70 670.17L798.50 675.83M798.50 670.17L788.70 675.83" stroke="#000" stroke-width="2.4" stroke-linecap="round" fill="none"/>
<circle cx="775.10" cy="673.00" r="2.6"/>
<circle cx="793.60" cy="673.00" r="2.6"/>
<path d="M758.55 710.00L758.55 720.60M753.65 712.47L763.45 718.13M763.45 712.47L753.65 718.13" stroke="#000" stroke-width="2.4" stroke-linecap="round" fill="none"/>
<circle cx="758.55" cy="715.30" r="2.6"/>
<line x1="635.90" y1="675.30" x2="693.00" y2="675.30" stroke="#000" stroke-width="3.0" stroke-linecap="butt"/>
<line x1="637.40" y1="667.10" x2="637.40" y2="683.60" stroke="#000" stroke-width="3.0" stroke-linecap="butt"/>
<line x1="691.50" y1="667.10" x2="691.50" y2="683.60" stroke="#000" stroke-width="3.0" stroke-linecap="butt"/>
<line x1="730.90" y1="650.90" x2="899.80" y2="650.90" stroke="#000" stroke-width="3.0" stroke-linecap="butt"/>
<line x1="732.40" y1="641.80" x2="732.40" y2="659.30" stroke="#000" stroke-width="3.0" stroke-linecap="butt"/>
<line x1="898.30" y1="641.80" x2="898.30" y2="659.30" stroke="#000" stroke-width="3.0" stroke-linecap="butt"/>
<line x1="738.80" y1="693.40" x2="828.30" y2="693.40" stroke="#000" stroke-width="3.0" stroke-linecap="butt"/>
<line x1="740.30" y1="684.50" x2="740.30" y2="701.40" stroke="#000" stroke-width="3.0" stroke-linecap="butt"/>
<line x1="826.80" y1="684.50" x2="826.80" y2="701.40" stroke="#000" stroke-width="3.0" stroke-linecap="butt"/>
<line x1="730.90" y1="734.50" x2="786.90" y2="734.50" stroke="#000" stroke-width="3.0" stroke-linecap="butt"/>
<line x1="732.40" y1="726.40" x2="732.40" y2="743.30" stroke="#000" stroke-width="3.0" stroke-linecap="butt"/>
<line x1="785.40" y1="726.40" x2="785.40" y2="743.30" stroke="#000" stroke-width="3.0" stroke-linecap="butt"/>
</g></svg>
</body></html>
